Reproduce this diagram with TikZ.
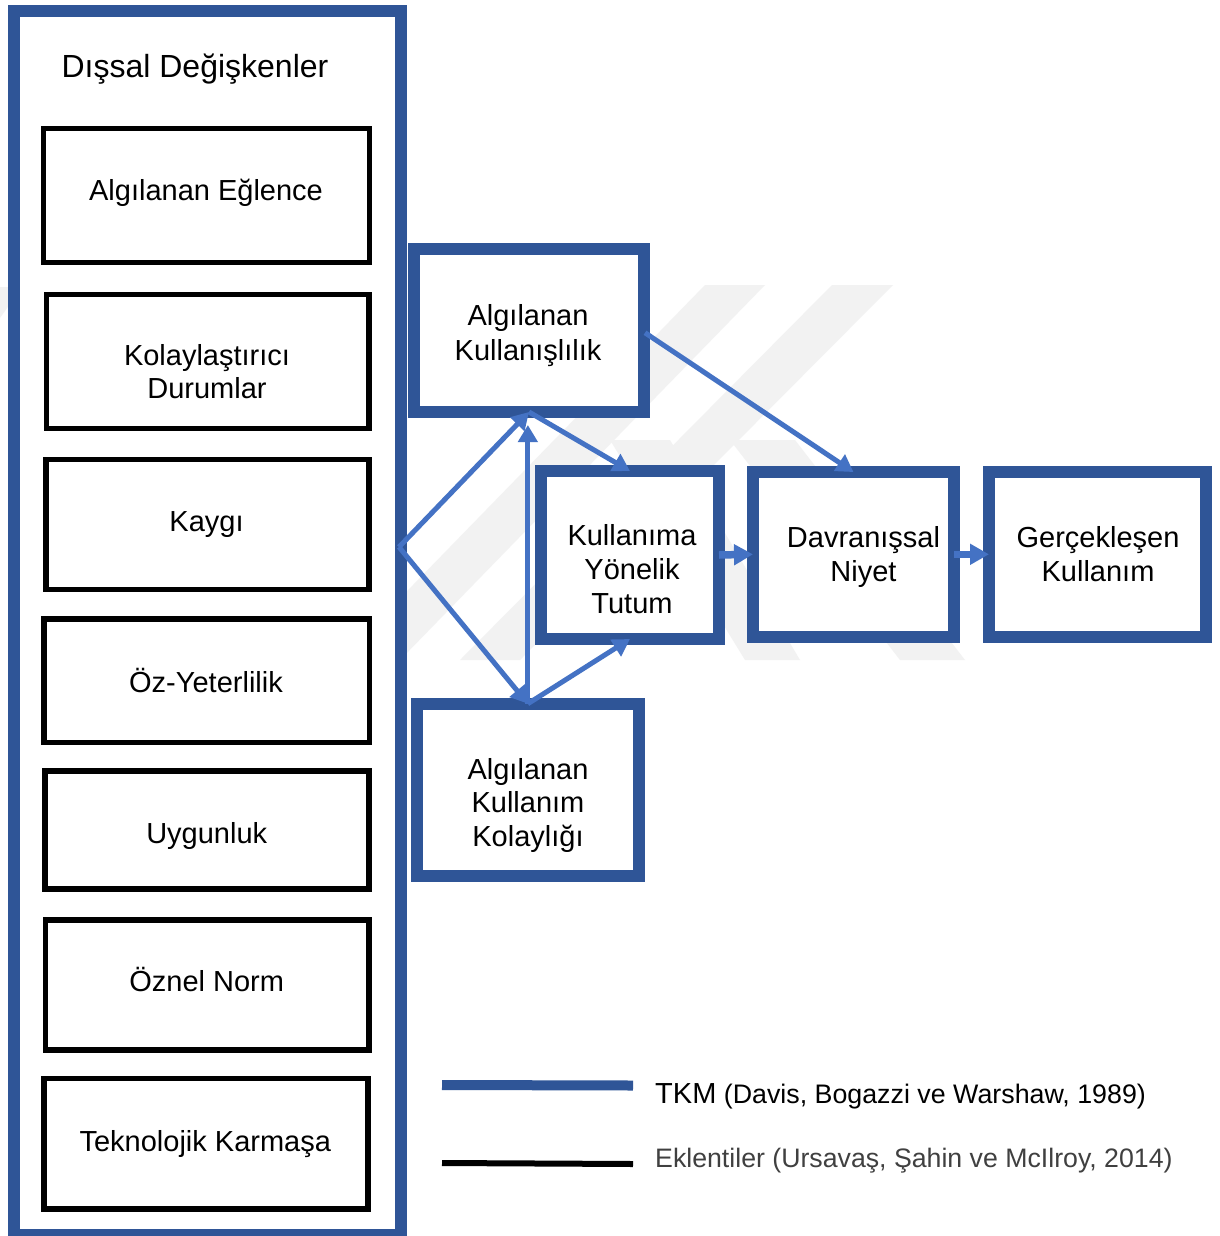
\documentclass[tikz,border=0pt]{standalone}
\usepackage{fontspec}
\setmainfont{Liberation Sans}
\usetikzlibrary{arrows.meta,calc}
\definecolor{dblue}{HTML}{2F5597}
\definecolor{lblue}{HTML}{4472C4}
\definecolor{wmark}{HTML}{F2F2F2}
\definecolor{legtext}{HTML}{404040}
\newcommand{\mlines}[1]{\begin{tabular}[t]{@{}c@{}}#1\end{tabular}}
\begin{document}
\begin{tikzpicture}[x=1pt,y=-1pt,
  outerbox/.style={rectangle,draw=dblue,line width=12pt,fill=white,inner sep=0pt,outer sep=0pt},
  varbox/.style={rectangle,draw=black,line width=5.5pt,fill=white,inner sep=0pt,outer sep=0pt},
  tambox/.style={rectangle,draw=dblue,line width=12pt,fill=white,inner sep=0pt,outer sep=0pt},
  lbl/.style={inner sep=0pt,anchor=base,font={\fontsize{29}{34}\selectfont}},
  link/.style={draw=lblue,line width=5pt,-{Triangle[length=17pt,width=19pt]}},
  blockarrow/.style={draw=lblue,line width=7.5pt,-{Triangle[length=19pt,width=20pt]}},
  wm/.style={fill=wmark,draw=none}
]
\useasboundingbox (0,0) rectangle (1219,1236);
\fill[white] (0,0) rectangle (1219,1236);

% faint watermark
\fill[wm] (0,287) -- (22,287) -- (0,318) -- cycle;
\fill[wm] (705,285) -- (765,285) -- (400,660) -- (340,660) -- cycle;
\fill[wm] (832,285) -- (893,285) -- (520,660) -- (460,660) -- cycle;
\fill[wm] (610,440) -- (670,440) -- (800,660) -- (745,660) -- cycle;
\fill[wm] (730,440) -- (795,440) -- (965,660) -- (900,660) -- cycle;

% external variables frame
\node[outerbox,minimum width=387pt,minimum height=1224pt] (ext) at (207.5,623) {};

% external variable boxes
\node[varbox,minimum width=326pt,minimum height=134pt] (eg) at (206.5,195.5) {};
\node[varbox,minimum width=322.5pt,minimum height=134pt] (kd) at (207.75,361.5) {};
\node[varbox,minimum width=323pt,minimum height=130pt] (ky) at (207.5,524.5) {};
\node[varbox,minimum width=325.5pt,minimum height=123.5pt] (oy) at (206.75,680.75) {};
\node[varbox,minimum width=324pt,minimum height=118pt] (uy) at (207.2,829.8) {};
\node[varbox,minimum width=323.5pt,minimum height=130pt] (on) at (207.25,985) {};
\node[varbox,minimum width=324.4pt,minimum height=130.5pt] (tk) at (206,1143.75) {};

% TAM boxes
\node[tambox,minimum width=230pt,minimum height=163.5pt] (ak) at (529,330.25) {};
\node[tambox,minimum width=178pt,minimum height=168pt] (kyt) at (630,555) {};
\node[tambox,minimum width=201pt,minimum height=164.5pt] (dn) at (853.5,554.3) {};
\node[tambox,minimum width=217pt,minimum height=164.5pt] (gk) at (1097.5,554.3) {};
\node[tambox,minimum width=222.3pt,minimum height=172.1pt] (akk) at (527.85,789.75) {};

% connectors
\coordinate (L) at (399,547);
\coordinate (vt) at (0,425);
\draw[link] (L) -- (ak.south);
\draw[link] (L) -- (akk.north);
\draw[link] (akk.north) -- (akk.north |- vt);
\draw[link] (ak.south) -- (kyt.north);
\draw[link] (akk.north) -- (kyt.south);
\draw[link] ($(ak.east)+(1,2.5)$) -- (dn.north);
\draw[blockarrow] (kyt.east) -- (dn.west);
\draw[blockarrow] (dn.east) -- (gk.west);

% texts
\node[lbl,font={\fontsize{32}{36}\selectfont}] (title) at (195,78) {Dışsal Değişkenler};
\node[lbl] (egt) at (206,200) {Algılanan Eğlence};
\node[lbl,font={\fontsize{29}{33.3}\selectfont}] (kdt) at (207,365) {\mlines{Kolaylaştırıcı\\Durumlar}};
\node[lbl] (kyt0) at (206.5,531.5) {Kaygı};
\node[lbl] (oyt) at (206,692) {Öz-Yeterlilik};
\node[lbl] (uyt) at (206.7,843) {Uygunluk};
\node[lbl] (ont) at (206.7,991.7) {Öznel Norm};
\node[lbl] (tkt) at (205.3,1151.7) {Teknolojik Karmaşa};

\node[lbl,font={\fontsize{29}{35.5}\selectfont}] (akt) at (528,325) {\mlines{Algılanan\\Kullanışlılık}};
\node[lbl] (kytt) at (632,545) {\mlines{Kullanıma\\Yönelik\\Tutum}};
\node[lbl] (dnt) at (863.5,547) {\mlines{Davranışsal\\Niyet}};
\node[lbl] (gkt) at (1098,547) {\mlines{Gerçekleşen\\Kullanım}};
\node[lbl,font={\fontsize{29}{33.5}\selectfont}] (akkt) at (528,779.3) {\mlines{Algılanan\\Kullanım\\Kolaylığı}};

% legend
\coordinate (la1) at (442,1085);
\coordinate (la2) at (633,1085.5);
\coordinate (lb1) at (442,1163);
\coordinate (lb2) at (633,1164);
\draw[dblue,line width=10pt] (la1) -- (la2);
\draw[black,line width=6pt] (lb1) -- (lb2);
\node[inner sep=0pt,anchor=base west,font={\fontsize{26.8}{32}\selectfont}] (lega) at (655,1103) {{\fontsize{29}{34}\selectfont TKM} (Davis, Bogazzi ve Warshaw, 1989)};
\node[inner sep=0pt,anchor=base west,text=legtext,font={\fontsize{26.7}{32}\selectfont}] (legb) at (655,1167.3) {Eklentiler (Ursavaş, Şahin ve McIlroy, 2014)};
\end{tikzpicture}
\end{document}
